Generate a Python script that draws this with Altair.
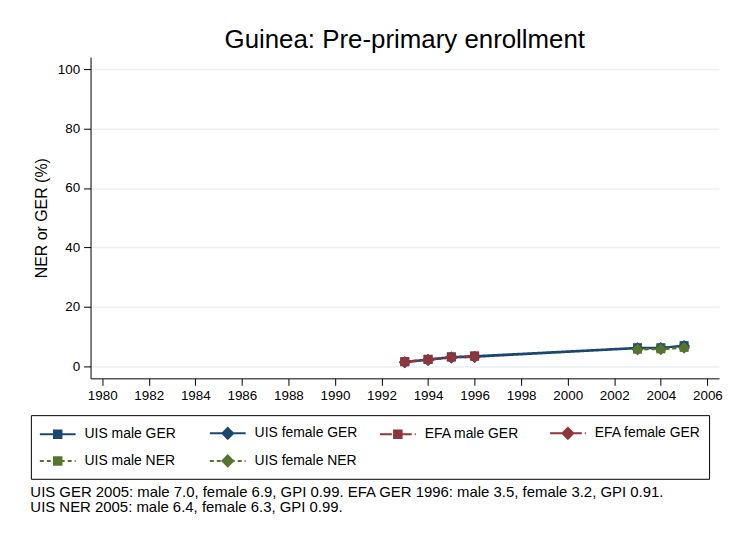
import altair as alt
import pandas as pd

# ---- data ----
series_names = ["UIS male GER", "UIS female GER", "EFA male GER",
                "EFA female GER", "UIS male NER", "UIS female NER"]

years_uis_ger = [1993, 1994, 1995, 1996, 2003, 2004, 2005]
uis_male_ger = [1.6, 2.4, 3.2, 3.5, 6.3, 6.3, 7.0]
uis_female_ger = [1.4, 2.2, 3.0, 3.2, 6.1, 6.2, 6.9]

years_efa_ger = [1993, 1994, 1995, 1996]
efa_male_ger = [1.6, 2.4, 3.2, 3.5]
efa_female_ger = [1.4, 2.2, 3.0, 3.2]

years_uis_ner = [2003, 2004, 2005]
uis_male_ner = [5.8, 5.9, 6.4]
uis_female_ner = [5.7, 5.8, 6.3]

x_ticks = list(range(1980, 2007, 2))
y_ticks = [0, 20, 40, 60, 80, 100]

title_text = "Guinea: Pre-primary enrollment"
y_title = "NER or GER (%)"
note_lines = [
    "UIS GER 2005: male 7.0, female 6.9, GPI 0.99. EFA GER 1996: male 3.5, female 3.2, GPI 0.91.",
    "UIS NER 2005: male 6.4, female 6.3, GPI 0.99.",
]

# ---- styles ----
navy, maroon, green = "#1a476f", "#90353b", "#55752f"
series_colors = [navy, navy, maroon, maroon, green, green]
series_dashes = [[1, 0], [1, 0], [12, 3, 2, 3], [12, 3, 2, 3], [4, 3], [4, 3]]
series_marker = ["square", "diamond", "square", "diamond", "square", "diamond"]

# legend symbols: a line segment with the marker drawn on it; the marker
# outline is split into short sub-paths so that dashing leaves it solid
sq = ("M-1,0H3"
      "M0.58,-0.42H1.42V0.42H0.58Z"
      "M0.58,-0.42H1M1,-0.42H1.42"
      "M1.42,-0.42V0M1.42,0V0.42"
      "M1.42,0.42H1M1,0.42H0.58"
      "M0.58,0.42V0M0.58,0V-0.42")
di = ("M-1,0H3"
      "M1,-0.6L1.6,0L1,0.6L0.4,0Z"
      "M1,-0.6L1.3,-0.3M1.3,-0.3L1.6,0"
      "M1.6,0L1.3,0.3M1.3,0.3L1,0.6"
      "M1,0.6L0.7,0.3M0.7,0.3L0.4,0"
      "M0.4,0L0.7,-0.3M0.7,-0.3L1,-0.6")
legend_paths = [sq, di, sq, di, sq, di]

groups = [
    ("UIS male GER", years_uis_ger, uis_male_ger),
    ("UIS female GER", years_uis_ger, uis_female_ger),
    ("EFA male GER", years_efa_ger, efa_male_ger),
    ("EFA female GER", years_efa_ger, efa_female_ger),
    ("UIS male NER", years_uis_ner, uis_male_ner),
    ("UIS female NER", years_uis_ner, uis_female_ner),
]
rows = []
for i, (name, yrs, vals) in enumerate(groups):
    for yr, v in zip(yrs, vals):
        rows.append({"series": name, "order": i, "year": yr, "value": v,
                     "marker": series_marker[i]})
df = pd.DataFrame(rows)

FONT = "Liberation Sans"

x = alt.X("year:Q",
          scale=alt.Scale(domain=[1979.5, 2006.5], nice=False, zero=False),
          axis=alt.Axis(values=x_ticks, format="d", title=None, grid=False,
                        tickSize=7, labelPadding=3, labelFontSize=13.5,
                        labelFont=FONT, labelColor="#000", domainColor="#000",
                        tickColor="#000", labelFlush=False))
y = alt.Y("value:Q",
          scale=alt.Scale(domain=[-4, 104], nice=False, zero=False),
          axis=alt.Axis(values=y_ticks, title=y_title, grid=True,
                        gridColor="#e9f0f2", gridWidth=1.5,
                        tickSize=7, labelPadding=4, labelFontSize=13.5,
                        labelFont=FONT, labelColor="#000", domainColor="#000",
                        tickColor="#000", titleFont=FONT, titleFontSize=16,
                        titleFontWeight="normal", titleColor="#000",
                        titlePadding=8))

color_scale = alt.Scale(domain=series_names, range=series_colors)
dash_scale = alt.Scale(domain=series_names, range=series_dashes)
shape_scale = alt.Scale(domain=series_names, range=legend_paths)

leg = alt.Legend(
    title=None, orient="none", legendX=-60, legendY=360,
    direction="horizontal", columns=4, gridAlign="all",
    symbolSize=324, symbolStrokeWidth=2, symbolOpacity=1,
    labelOffset=26, columnPadding=15, rowPadding=8, padding=8,
    strokeColor="#000", labelFont=FONT, labelFontSize=14,
    labelColor="#000", labelLimit=300,
)

legend_layer = alt.Chart(df).mark_point(
    filled=True, opacity=0, strokeWidth=2
).encode(
    x=x, y=y,
    color=alt.Color("series:N", scale=color_scale, legend=leg),
    stroke=alt.Stroke("series:N", scale=color_scale, legend=leg),
    shape=alt.Shape("series:N", scale=shape_scale, legend=leg),
    strokeDash=alt.StrokeDash("series:N", scale=dash_scale, legend=leg),
)

lines = alt.Chart(df).mark_line(strokeWidth=2).encode(
    x=x, y=y,
    color=alt.Color("series:N", scale=color_scale, legend=leg),
    strokeDash=alt.StrokeDash("series:N", scale=dash_scale, legend=leg),
)

squares = alt.Chart(df).transform_filter(
    alt.datum.marker == "square"
).mark_point(filled=True, opacity=1, shape="square", size=81).encode(
    x=x, y=y,
    color=alt.Color("series:N", scale=color_scale, legend=leg),
)
diamonds = alt.Chart(df).transform_filter(
    alt.datum.marker == "diamond"
).mark_point(filled=True, opacity=1, shape="diamond", size=144).encode(
    x=x, y=y,
    color=alt.Color("series:N", scale=color_scale, legend=leg),
)

main = alt.layer(legend_layer, lines, squares, diamonds).properties(
    width=632, height=323,
    title=alt.TitleParams(title_text, font=FONT, fontSize=26,
                          fontWeight="normal", color="#000", offset=4,
                          anchor="middle"),
)

chart = alt.vconcat(main).properties(
    padding={"left": 22, "top": 18, "right": 0, "bottom": 0},
    title=alt.TitleParams(note_lines, orient="bottom", anchor="start",
                          font=FONT, fontSize=15, fontWeight="normal",
                          color="#000", lineHeight=15, offset=6),
).configure_view(stroke=None)

chart.save("out.html", embed_options={"renderer": "svg", "actions": False})
